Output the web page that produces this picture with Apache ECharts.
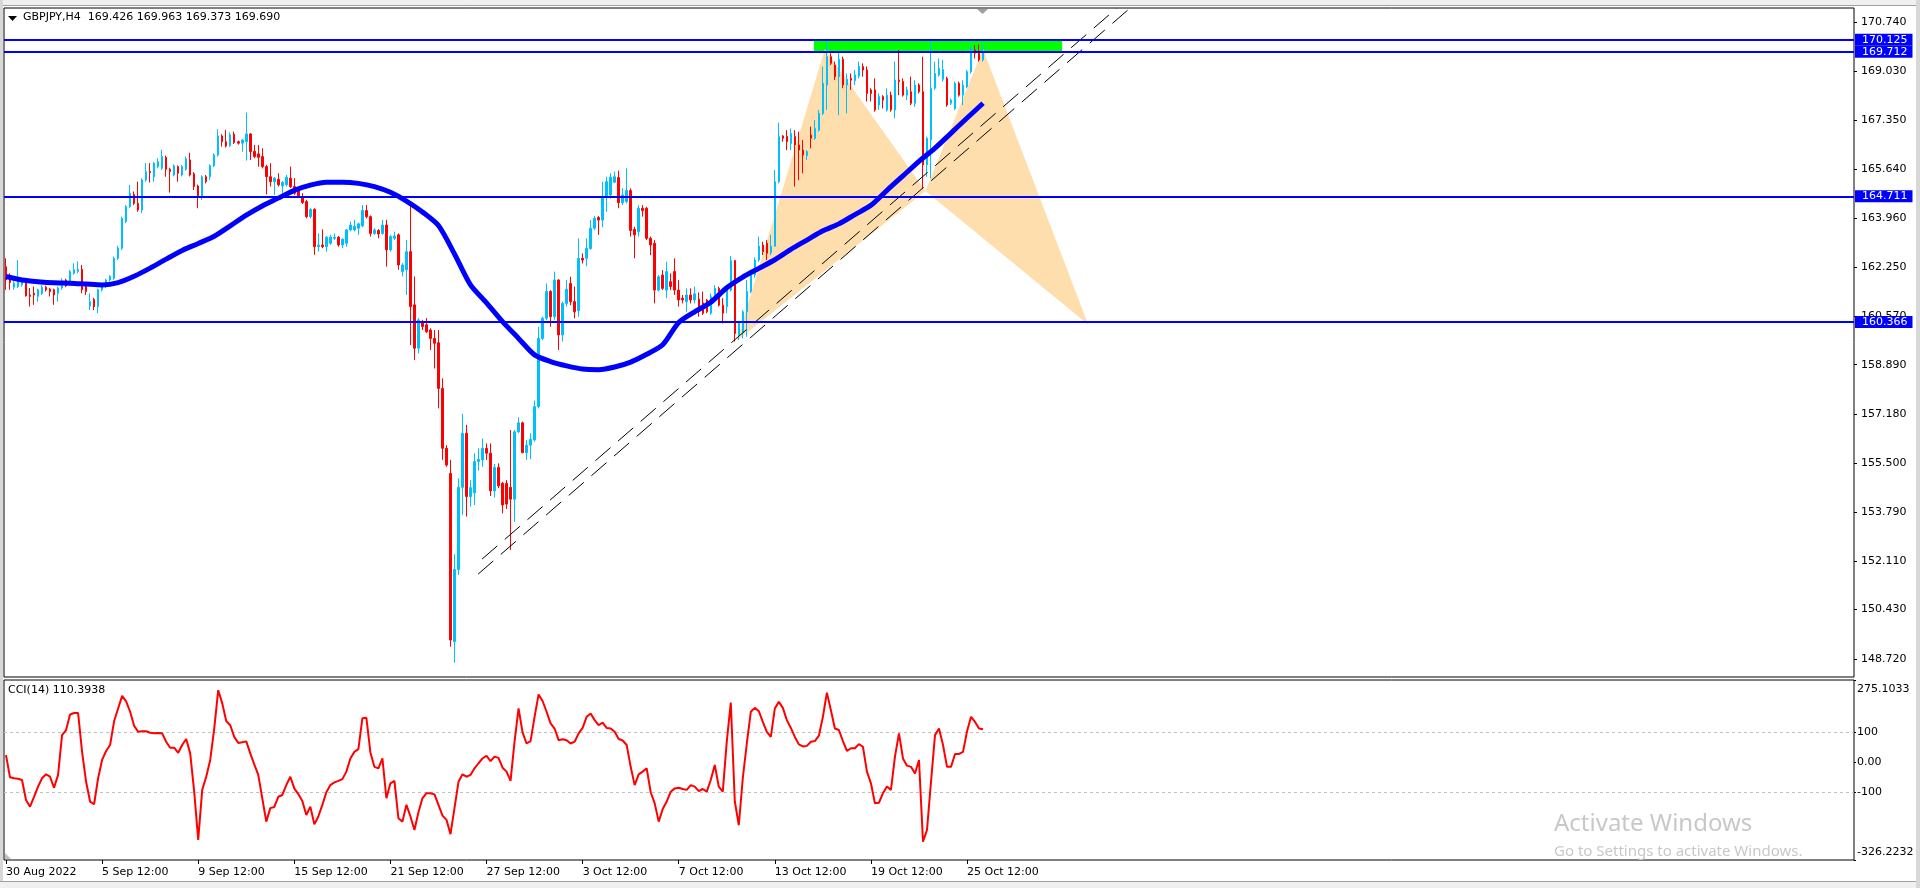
<!DOCTYPE html>
<html><head><meta charset="utf-8">
<script src="https://cdn.jsdelivr.net/npm/echarts@6.0.0/dist/echarts.min.js"></script>
<style>html,body{margin:0;padding:0;background:#fff;overflow:hidden}#c{width:1920px;height:888px}</style>
</head><body><div id="c"></div><script>
// ---------- DATA ----------
const symbolName = 'GBPJPY,H4';
const slotCount = 462; // H4 slots on the x axis (bars + right-side shift)
// [open, high, low, close] per H4 bar
const ohlc = [
[162.28,162.57,161.48,161.82],[161.96,162.05,161.48,161.73],[161.57,161.88,161.48,161.71],[161.59,162.51,161.54,161.82],[161.65,161.90,161.59,161.82],
[161.82,161.86,161.25,161.27],[161.30,161.54,160.90,161.25],[161.36,161.59,160.96,161.30],[161.25,161.52,161.07,161.48],[161.36,161.65,161.30,161.57],
[161.57,161.62,161.42,161.48],[161.50,161.55,161.25,161.42],[161.48,161.52,160.96,161.30],[161.36,161.59,161.07,161.54],[161.54,161.88,161.48,161.76],
[161.82,161.86,161.57,161.62],[161.76,162.17,161.71,162.11],[162.05,162.40,162.00,162.17],[162.11,162.46,162.05,162.19],[162.19,162.34,161.36,161.48],
[161.59,161.65,161.30,161.42],[160.92,161.36,160.78,161.07],[161.15,161.20,160.78,160.90],[160.90,161.52,160.67,161.48],[161.48,161.71,161.42,161.65],
[161.59,161.86,161.54,161.82],[161.82,161.99,161.76,161.94],[161.88,162.63,161.82,162.57],[162.57,163.00,162.51,162.92],[162.92,164.01,162.86,163.95],
[163.84,164.41,163.78,164.36],[164.36,165.11,164.30,164.82],[164.78,164.88,164.41,164.47],[164.47,165.22,164.18,164.24],[164.24,165.34,164.13,165.28],
[165.28,165.86,165.22,165.57],[165.57,165.86,165.19,165.53],[165.39,165.90,165.22,165.86],[165.74,166.03,165.68,165.91],[165.68,166.32,165.62,166.09],
[166.06,166.12,165.39,165.65],[165.65,165.70,164.84,165.57],[165.45,165.82,165.40,165.77],[165.74,165.78,165.22,165.51],[165.45,165.80,165.40,165.74],
[165.65,166.09,165.60,166.01],[165.97,166.22,165.40,165.45],[165.49,165.55,164.93,165.05],[165.07,165.12,164.30,164.73],[164.73,165.44,164.59,165.39],
[165.39,165.45,165.16,165.22],[165.39,165.82,165.28,165.77],[165.77,166.20,165.72,166.14],[166.14,167.03,166.09,166.80],[166.80,166.86,166.43,166.60],
[166.60,167.01,166.40,166.45],[166.47,166.92,166.42,166.84],[166.86,166.95,166.52,166.57],[166.60,166.64,166.50,166.55],[166.55,166.70,166.26,166.66],
[166.60,167.61,165.95,166.87],[166.87,166.90,165.97,166.26],[166.27,166.49,166.03,166.09],[166.18,166.49,165.74,166.06],[166.09,166.37,165.68,165.74],
[165.74,165.80,164.78,165.39],[165.39,165.86,165.05,165.22],[165.22,165.38,164.76,165.34],[165.30,165.51,165.05,165.11],[165.07,165.24,164.82,165.19],
[165.11,165.45,165.05,165.37],[165.34,165.74,165.00,165.05],[165.05,165.34,164.76,164.82],[164.93,165.00,164.65,164.70],[164.70,164.82,164.45,164.50],
[164.53,164.59,163.95,164.01],[164.01,164.30,163.95,164.26],[164.26,164.30,162.69,162.97],[162.97,163.43,162.80,163.03],[163.03,163.57,162.92,162.97],
[162.97,163.34,162.80,163.30],[163.09,163.38,163.03,163.30],[163.26,163.43,163.20,163.30],[163.30,163.34,162.97,163.03],[163.03,163.26,162.92,163.23],
[163.09,163.58,162.97,163.55],[163.55,163.84,163.50,163.72],[163.55,163.90,163.50,163.67],[163.61,163.80,163.38,163.76],[163.69,164.41,163.64,164.22],
[164.22,164.41,163.95,164.01],[164.01,164.05,163.32,163.43],[163.43,163.61,163.38,163.55],[163.53,163.58,163.26,163.41],[163.43,163.90,163.38,163.72],
[163.72,163.90,162.28,162.86],[162.86,163.38,162.80,163.32],[163.26,163.49,163.20,163.34],[163.38,163.43,162.17,162.34],[162.11,162.40,161.94,162.34],
[162.17,163.20,161.30,162.80],[162.80,164.41,159.57,160.90],[160.96,161.94,159.05,159.46],[159.46,160.50,159.28,160.44],[160.38,160.44,160.09,160.21],
[160.27,160.50,159.98,160.03],[160.09,160.15,159.40,159.80],[159.80,160.09,158.76,159.63],[159.65,160.09,157.38,158.07],[158.07,158.42,155.60,156.00],
[156.00,156.11,155.36,155.42],[155.13,155.60,149.14,149.37],[149.31,152.34,148.59,151.81],[151.81,154.96,151.62,154.65],[154.65,157.19,153.69,156.52],
[156.52,156.81,153.64,154.33],[154.33,154.90,153.98,154.64],[154.46,155.83,154.04,155.54],[155.54,156.00,155.23,155.62],[155.60,156.34,155.36,156.00],
[156.00,156.17,155.60,155.83],[155.83,156.17,154.35,154.53],[154.53,155.46,154.30,155.34],[155.34,155.48,154.62,154.70],[154.79,154.84,153.75,154.04],
[154.79,154.90,153.90,154.07],[154.65,156.63,152.48,154.24],[154.24,156.63,153.46,156.57],[156.57,157.07,156.52,156.88],[156.88,156.92,155.83,155.85],
[155.85,156.29,155.60,156.11],[156.11,156.52,155.62,156.31],[156.29,157.65,156.23,157.44],[157.44,160.20,157.38,159.80],[159.80,160.55,159.74,160.50],
[160.50,161.70,160.44,161.42],[161.42,161.47,160.20,160.55],[160.55,162.11,160.44,161.82],[161.82,161.84,159.40,159.92],[159.92,161.07,159.69,161.01],
[161.01,161.82,160.90,161.50],[161.70,161.93,160.95,161.07],[161.07,161.59,160.49,160.72],[160.76,163.26,160.55,162.57],[162.57,162.74,162.39,162.51],
[162.57,163.26,162.30,162.91],[162.91,163.89,162.86,163.61],[163.61,164.03,163.55,163.95],[163.98,164.03,163.38,163.89],[163.89,165.22,163.64,164.70],
[164.70,165.39,164.18,165.22],[164.76,165.51,164.64,165.37],[165.20,165.57,165.18,165.39],[165.36,165.60,164.30,164.49],[164.49,164.99,164.41,164.76],
[164.53,165.68,164.47,164.91],[164.91,164.99,163.32,163.53],[163.57,163.66,162.57,163.38],[163.49,164.41,163.32,164.30],[164.30,164.41,164.01,164.22],
[164.30,164.35,163.20,163.26],[163.26,163.32,162.68,163.03],[163.09,163.20,161.01,161.47],[161.47,161.99,161.42,161.93],[161.99,162.16,161.47,161.53],
[161.47,162.45,161.19,162.11],[161.76,162.05,161.47,161.59],[162.11,162.57,161.30,161.47],[161.47,161.82,160.90,161.13],[161.19,161.30,161.01,161.13],
[161.07,161.53,160.72,161.30],[161.30,161.53,161.01,161.13],[161.13,161.59,161.01,161.34],[161.16,161.39,160.55,160.84],[161.03,161.42,160.61,160.67],
[161.13,161.16,160.67,160.72],[160.67,161.36,160.61,161.24],[161.19,161.64,161.13,161.53],[161.53,161.59,160.90,160.95],[160.95,161.19,160.32,160.67],
[160.90,161.53,160.67,161.47],[161.47,162.65,161.42,162.49],[162.49,162.51,159.69,159.97],[159.92,160.38,159.74,160.32],[160.00,160.78,159.80,160.72],
[160.72,161.82,159.86,161.42],[161.42,162.05,161.36,161.99],[161.99,162.60,161.90,162.51],[162.51,163.32,162.45,162.99],[163.03,163.14,162.68,162.80],
[163.09,163.20,162.51,162.74],[162.76,163.38,162.68,162.99],[162.99,165.62,162.97,165.22],[165.22,167.26,165.16,166.78],[166.80,166.83,166.60,166.72],
[166.78,167.00,166.31,166.60],[166.54,167.06,166.31,166.89],[166.78,167.00,165.05,166.49],[166.49,166.95,165.27,166.31],[166.31,166.66,165.51,166.14],
[166.12,166.31,165.97,166.26],[166.83,167.12,166.37,166.72],[166.72,167.35,166.66,167.06],[167.00,167.70,166.95,167.58],[167.58,169.20,167.52,168.62],
[168.56,170.12,167.70,169.54],[169.54,169.66,169.25,169.31],[169.25,169.37,168.73,168.85],[168.85,169.71,167.52,169.45],[169.45,169.54,168.45,168.56],
[168.56,168.96,167.58,168.76],[168.79,168.96,168.39,168.73],[168.71,169.08,168.56,168.91],[168.87,169.37,168.79,169.20],[169.20,169.31,168.85,169.08],
[169.08,169.20,167.99,168.27],[168.39,168.45,167.99,168.27],[168.39,168.79,167.64,167.70],[167.87,168.27,167.70,168.16],[168.16,168.21,167.75,168.04],
[167.70,168.45,167.64,168.21],[168.21,168.33,167.64,167.70],[167.70,169.37,167.41,168.73],[168.73,169.77,168.21,168.68],[168.68,168.79,168.16,168.21],
[168.21,168.50,168.04,168.39],[168.33,168.85,167.87,167.93],[167.93,168.73,167.81,168.56],[168.56,168.62,168.27,168.33],[168.33,169.54,164.99,165.80],
[165.80,166.77,165.39,166.72],[166.66,170.12,165.33,168.45],[168.45,169.37,168.39,168.96],[168.91,169.48,168.85,169.14],[168.76,169.43,168.68,169.10],
[168.79,168.85,167.81,167.87],[167.93,168.10,167.87,168.04],[167.75,168.68,167.70,168.62],[168.62,168.68,168.16,168.21],[168.21,168.73,167.87,168.56],
[168.50,169.08,168.45,169.02],[169.02,169.94,168.96,169.83],[169.77,169.94,169.48,169.66],[169.71,169.96,169.37,169.43],[169.426,169.963,169.373,169.690]
];
// CCI(14) per bar
const cci14 = [
24,-50,-53,-55,-59,-126,-148,-115,-81,-53,-40,-48,-85,-42,91,108,160,165,165,35,
-65,-131,-140,-53,8,38,58,138,180,222,204,169,122,102,104,104,99,97,98,97,
69,49,49,32,58,78,30,-98,-259,-92,-48,8,113,241,197,138,124,85,65,67,
70,30,-7,-42,-120,-198,-153,-149,-115,-109,-76,-48,-87,-106,-129,-176,-148,-207,-181,-142,
-100,-76,-67,-62,-56,-31,13,35,44,147,149,33,-15,-20,13,-120,-70,-62,-187,-198,
-142,-181,-226,-167,-120,-103,-103,-107,-142,-178,-192,-240,-153,-65,-40,-48,-42,-20,-3,13,
22,4,19,15,-18,-31,-62,69,180,100,63,71,152,227,205,169,130,113,74,77,
74,63,69,97,115,152,163,141,124,133,115,113,102,78,73,58,-15,-76,-40,-31,
-20,-100,-137,-198,-156,-131,-98,-87,-85,-89,-92,-76,-81,-96,-89,-98,-59,-9,-81,-98,
69,200,-130,-210,-53,63,169,182,171,135,102,85,180,202,182,141,115,85,60,53,
55,69,71,89,152,233,174,113,108,71,38,47,47,61,52,-31,-70,-137,-135,-103,
-81,-92,19,97,13,-11,-15,-37,8,-265,-226,-65,91,113,58,-15,-15,28,28,35,
104,152,135,113,110.3938
];
// moving average read every 4 bars
const maBars = [0,4,8,12,16,20,24,28,32,36,40,44,48,52,56,60,64,68,72,76,80,84,88,92,96,100,104,108,112,116,120,124,128,132,136,140,144,148,152,156,160,164,168,172,176,180,184,188,192,196,200,204,208,212,216,220,224,228,232,236,240,244];
const maValues = [161.94,161.82,161.76,161.72,161.71,161.68,161.65,161.73,161.95,162.23,162.54,162.84,163.08,163.33,163.69,164.06,164.38,164.65,164.92,165.10,165.20,165.20,165.16,165.05,164.85,164.55,164.17,163.70,162.72,161.65,161.03,160.38,159.80,159.23,159.00,158.85,158.74,158.72,158.81,158.98,159.25,159.58,160.35,160.72,161.05,161.55,161.92,162.22,162.52,162.88,163.20,163.52,163.76,164.08,164.40,164.92,165.42,165.92,166.38,166.90,167.42,167.93];
// horizontal levels
const levelPrices = [170.125, 169.712, 164.711, 160.366];
// price axis tick labels
const priceTicks = [170.740,169.030,167.350,165.640,163.960,162.250,160.570,158.890,157.180,155.500,153.790,152.110,150.430,148.720];
const priceMin = 148.092, priceMax = 171.224;
// CCI axis
const cciTicks = [275.1033, 100, 0, -100, -326.2232];
const cciTickText = ['275.1033','100','0.00','-100','-326.2232'];
// time axis labels (bar index, text)
const dateTickBars = [0,24,48,72,96,120,144,168,192,216,240];
const dateTickText = ['30 Aug 2022','5 Sep 12:00','9 Sep 12:00','15 Sep 12:00','21 Sep 12:00','27 Sep 12:00','3 Oct 12:00','7 Oct 12:00','13 Oct 12:00','19 Oct 12:00','25 Oct 12:00'];
// drawn objects: harmonic pattern X,A,B,C,D as (bar, price)
const patternX = [182.5,159.72], patternA = [204.5,169.80], patternB = [229.6,164.90], patternC = [244,169.80], patternD = [270.25,160.28];
// green zone: [fromBar, lowPrice, toBar, highPrice]
const greenZone = [201.75, 169.712, 263.75, 170.125];
// parallel dashed trend lines
const trendUpper = [[118.9,152.17],[277.4,171.22]];
const trendLower = [[117.9,151.65],[280.7,171.22]];

// ---------- CHART ----------
const categories = Array.from({length: slotCount}, (_, i) => String(i));
const last = ohlc[ohlc.length - 1];
const headerText = symbolName + '  ' + last.map(v => v.toFixed(3)).join(' ');
const cciHeader = 'CCI(14) ' + cci14[cci14.length - 1].toFixed(4);
const FONT = 'DejaVu Sans';
const isDateTick = (idx) => dateTickBars.indexOf(idx) >= 0;
const noLine = {show: false, onZero: false};

const chart = echarts.init(document.getElementById('c'), null, {renderer: 'canvas'});
const option = {
  animation: false,
  backgroundColor: '#ffffff',
  grid: [
    {left: 4, right: 66, top: 8, height: 669, show: true, borderColor: '#000', borderWidth: 1},
    {left: 4, right: 66, top: 680, height: 180, show: true, borderColor: '#000', borderWidth: 1}
  ],
  xAxis: [
    {type: 'category', gridIndex: 0, data: categories, boundaryGap: true,
     axisLine: noLine, axisTick: {show: false}, axisLabel: {show: false}, splitLine: {show: false}},
    {type: 'value', gridIndex: 0, min: -0.5, max: slotCount - 0.5, show: false, axisLine: noLine, splitLine: {show: false}},
    {type: 'category', gridIndex: 1, data: categories, boundaryGap: true, position: 'bottom',
     axisLine: noLine,
     axisTick: {show: true, alignWithLabel: true, interval: (i) => isDateTick(i), length: 4, lineStyle: {color: '#000', width: 1}},
     axisLabel: {show: true, interval: (i) => isDateTick(i), align: 'left', margin: 7,
       formatter: (v, i) => { const k = dateTickBars.indexOf(i); return k >= 0 ? dateTickText[k] : ''; },
       color: '#000', fontFamily: FONT, fontSize: 11},
     splitLine: {show: false}}
  ],
  yAxis: [
    {type: 'value', gridIndex: 0, position: 'right', min: priceMin, max: priceMax,
     axisLine: noLine, splitLine: {show: false},
     axisTick: {show: true, length: 3, customValues: priceTicks, lineStyle: {color: '#000'}},
     axisLabel: {customValues: priceTicks, formatter: v => v.toFixed(3), margin: 7, color: '#000', fontFamily: FONT, fontSize: 11}},
    {type: 'value', gridIndex: 0, position: 'right', min: priceMin, max: priceMax,
     axisLine: noLine, splitLine: {show: false}, axisTick: {show: false},
     axisLabel: {customValues: levelPrices, formatter: v => v.toFixed(3), margin: 1, color: '#ffffff',
       backgroundColor: '#0000ff', padding: [1, 5, 0, 7], fontFamily: FONT, fontSize: 11}},
    {type: 'value', gridIndex: 1, position: 'right', min: -326.2232, max: 275.1033,
     axisLine: noLine, splitLine: {show: false},
     axisTick: {show: true, length: 2, customValues: cciTicks, lineStyle: {color: '#000'}},
     axisLabel: {customValues: cciTicks, margin: 3, color: '#000', fontFamily: FONT, fontSize: 11,
       formatter: v => {
         let k = 0, best = 1e9;
         cciTicks.forEach((t, j) => { if (Math.abs(t - v) < best) { best = Math.abs(t - v); k = j; } });
         if (k === 0) return '{t|' + cciTickText[k] + '}';
         if (k === cciTicks.length - 1) return '{b|' + cciTickText[k] + '}';
         return cciTickText[k];
       },
       rich: {t: {padding: [18, 0, 0, 0], fontFamily: FONT, fontSize: 11, color: '#000'},
              b: {padding: [0, 0, 16, 0], fontFamily: FONT, fontSize: 11, color: '#000'}}}}
  ],
  series: [
    {name: 'zone', type: 'custom', xAxisIndex: 1, yAxisIndex: 0, z: 1, silent: true,
     data: [greenZone],
     renderItem: (p, api) => {
       const a = api.coord([api.value(0), api.value(3)]);
       const b = api.coord([api.value(2), api.value(1)]);
       return {type: 'rect', shape: {x: a[0], y: a[1], width: b[0] - a[0], height: b[1] - a[1]}, style: {fill: '#00ff00'}};
     }},
    {name: 'pattern', type: 'custom', xAxisIndex: 1, yAxisIndex: 0, z: 1, silent: true,
     data: [[...patternX, ...patternA, ...patternB], [...patternB, ...patternC, ...patternD]],
     encode: {x: [0, 2, 4], y: [1, 3, 5]},
     renderItem: (p, api) => {
       const pts = [0, 1, 2].map(k => api.coord([api.value(2 * k), api.value(2 * k + 1)]));
       return {type: 'polygon', shape: {points: pts}, style: {fill: '#ffdead'}};
     }},
    {name: 'GBPJPY', type: 'candlestick', xAxisIndex: 0, yAxisIndex: 0, z: 3, barWidth: 2,
     data: ohlc.map(r => [r[0], r[3], r[2], r[1]]),
     itemStyle: {color: '#00bfff', color0: '#ff0000', borderColor: '#00bfff', borderColor0: '#ff0000', borderWidth: 1}},
    {name: 'MA', type: 'line', xAxisIndex: 1, yAxisIndex: 0, z: 4, showSymbol: false, smooth: 0.25,
     data: maBars.map((b, i) => [b, maValues[i]]),
     lineStyle: {color: '#0000ff', width: 5}},
    {name: 'levels', type: 'line', xAxisIndex: 1, yAxisIndex: 0, z: 5, data: [], showSymbol: false,
     markLine: {silent: true, symbol: ['none', 'none'], label: {show: false}, animation: false,
       lineStyle: {color: '#0000ff', width: 2, type: 'solid'},
       data: levelPrices.map(v => ({yAxis: v}))}},
    {name: 'trendU', type: 'line', xAxisIndex: 1, yAxisIndex: 0, z: 4, showSymbol: false, clip: true,
     data: trendUpper, lineStyle: {color: '#000', width: 1, type: [20, 10]}},
    {name: 'trendL', type: 'line', xAxisIndex: 1, yAxisIndex: 0, z: 4, showSymbol: false, clip: true,
     data: trendLower, lineStyle: {color: '#000', width: 1, type: [20, 10]}},
    {name: 'CCI', type: 'line', xAxisIndex: 2, yAxisIndex: 2, z: 3, showSymbol: false,
     data: cci14, lineStyle: {color: '#ff0000', width: 2},
     markLine: {silent: true, symbol: ['none', 'none'], label: {show: false}, z: 1,
       lineStyle: {color: '#c0c0c0', width: 1, type: [3, 3]},
       data: [{yAxis: 100}, {yAxis: -100}]}}
  ],
  graphic: [
    {type: 'rect', z: 100, shape: {x: 0, y: 0, width: 1920, height: 5}, style: {fill: '#f0f0f0'}},
    {type: 'rect', z: 100, shape: {x: 0, y: 5, width: 1920, height: 1}, style: {fill: '#a0a0a0'}},
    {type: 'rect', z: 100, shape: {x: 0, y: 0, width: 3, height: 888}, style: {fill: '#d8d8d8'}},
    {type: 'rect', z: 100, shape: {x: 0, y: 882, width: 1920, height: 6}, style: {fill: '#f0f0f0'}},
    {type: 'rect', z: 100, shape: {x: 0, y: 881, width: 1920, height: 1}, style: {fill: '#a0a0a0'}},
    {type: 'rect', z: 100, shape: {x: 1916, y: 0, width: 4, height: 888}, style: {fill: '#d8d8d8'}},
    {type: 'polygon', z: 100, shape: {points: [[8, 16], [17, 16], [12.5, 21]]}, style: {fill: '#000'}},
    {type: 'polygon', z: 100, shape: {points: [[977, 9], [988, 9], [982.5, 14]]}, style: {fill: '#a0a0a0'}},
    {type: 'polygon', z: 100, shape: {points: [[5, 853], [5, 859], [11, 859]]}, style: {fill: '#c0c0c0'}},
    {type: 'text', z: 100, left: 23, top: 12, style: {text: headerText, font: '11px "DejaVu Sans"', fill: '#000'}},
    {type: 'text', z: 100, left: 8, top: 685, style: {text: cciHeader, font: '11px "DejaVu Sans"', fill: '#000'}},
    {type: 'text', z: 100, left: 1554, top: 812, style: {text: 'Activate Windows', font: '24px "Noto Sans"', fill: '#c8c8c8'}},
    {type: 'text', z: 100, left: 1554, top: 844, style: {text: 'Go to Settings to activate Windows.', font: '15px "Noto Sans"', fill: '#c8c8c8'}}
  ]
};
chart.setOption(option);
</script></body></html>
